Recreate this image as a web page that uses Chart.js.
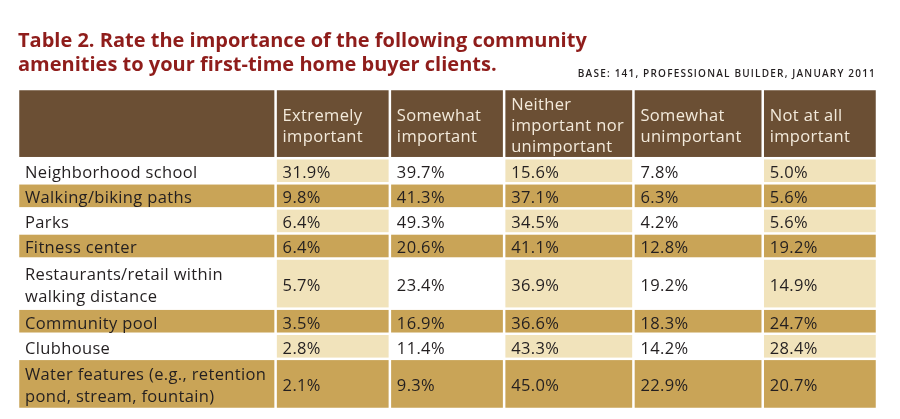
<!DOCTYPE html>
<html>
<head>
<meta charset="utf-8">
<script src="https://cdn.jsdelivr.net/npm/chart.js@4/dist/chart.umd.min.js"></script>
<style>
  html, body { margin: 0; padding: 0; background: #ffffff; }
  #wrap { width: 900px; height: 419px; }
</style>
</head>
<body>
<div id="wrap"><canvas id="tabla"></canvas></div>
<script>
// datos de la tabla
const titleLines = ['Table 2. Rate the importance of the following community', 'amenities to your first-time home buyer clients.'];
const sourceNote = 'BASE: 141, PROFESSIONAL BUILDER, JANUARY 2011';
const columns = [['Extremely', 'important'], ['Somewhat', 'important'], ['Neither', 'important nor', 'unimportant'], ['Somewhat', 'unimportant'], ['Not at all', 'important']];
const amenities = [
    ['Neighborhood school'],
    ['Walking/biking paths'],
    ['Parks'],
    ['Fitness center'],
    ['Restaurants/retail within', 'walking distance'],
    ['Community pool'],
    ['Clubhouse'],
    ['Water features (e.g., retention', 'pond, stream, fountain)']
];
const extremely = [31.9, 9.8, 6.4, 6.4, 5.7, 3.5, 2.8, 2.1];
const somewhat = [39.7, 41.3, 49.3, 20.6, 23.4, 16.9, 11.4, 9.3];
const neither = [15.6, 37.1, 34.5, 41.1, 36.9, 36.6, 43.3, 45.0];
const somewhatUn = [7.8, 6.3, 4.2, 12.8, 19.2, 18.3, 14.2, 22.9];
const notAtAll = [5.0, 5.6, 5.6, 19.2, 14.9, 24.7, 28.4, 20.7];

const series = [extremely, somewhat, neither, somewhatUn, notAtAll];

// layout (unidades de las escalas)
const colWidths = [257, 114, 114, 129, 129, 114];
const headerUnits = 2.76;
const FONT = '"Open Sans"';

const colEdges = [0];
colWidths.forEach(w => colEdges.push(colEdges[colEdges.length - 1] + w));
const rowEdges = [0, headerUnits];
amenities.forEach(lines => rowEdges.push(rowEdges[rowEdges.length - 1] + lines.length));

const BROWN = '#6b4f34';
const GOLD = '#c9a457';
const CREAM = '#f1e3bb';
const INK = '#231f20';

function cellColor(row, col) {
    if (row < 0) return BROWN;
    if (row % 2 === 1) return GOLD;
    if (col === 0) return '#ffffff';
    return (col % 2 === 1) ? CREAM : '#ffffff';
}

const tablePlugin = {
    id: 'amenityTable',
    beforeDatasetsDraw(chart) {
        const {ctx, scales: {x, y}} = chart;
        const gap = 1.25;
        ctx.save();
        for (let r = -1; r < amenities.length; r++) {
            const top = y.getPixelForValue(rowEdges[r + 1]);
            const bottom = y.getPixelForValue(rowEdges[r + 2]);
            const mid = (top + bottom) / 2;
            for (let c = 0; c < colWidths.length; c++) {
                const left = x.getPixelForValue(colEdges[c]);
                const right = x.getPixelForValue(colEdges[c + 1]);
                ctx.fillStyle = cellColor(r, c);
                ctx.fillRect(left + gap, top + gap, right - left - 2 * gap, bottom - top - 2 * gap);

                let lines;
                if (r < 0) {
                    lines = c === 0 ? [] : columns[c - 1];
                } else {
                    lines = c === 0 ? amenities[r] : [series[c - 1][r].toFixed(1) + '%'];
                }
                const lh = r < 0 ? 21 : 22;
                ctx.font = '16.5px ' + FONT;
                ctx.letterSpacing = '0.35px';
                ctx.fillStyle = r < 0 ? '#f3eadb' : INK;
                ctx.textAlign = 'left';
                ctx.textBaseline = 'alphabetic';
                const first = mid + 7.5 - (lines.length - 1) * lh / 2;
                lines.forEach((t, i) => {
                    ctx.fillText(t, left + 7, first + i * lh);
                });
            }
        }
        ctx.restore();
    },
    afterDraw(chart) {
        const {ctx, scales: {x}} = chart;
        ctx.save();
        ctx.font = '600 10px ' + FONT;
        ctx.letterSpacing = '1.2px';
        ctx.fillStyle = INK;
        ctx.textAlign = 'right';
        ctx.textBaseline = 'alphabetic';
        ctx.fillText(sourceNote, x.getPixelForValue(colEdges[colEdges.length - 1]) - 1, 77);
        ctx.restore();
    }
};

const grafica = document.querySelector('#tabla').getContext('2d');

new Chart(grafica, {
    type: 'scatter',
    data: {datasets: []},
    options: {
        responsive: true,
        maintainAspectRatio: false,
        animation: false,
        layout: {padding: {left: 18, right: 23, top: 0, bottom: 10}},
        plugins: {
            legend: {display: false},
            tooltip: {enabled: false},
            title: {
                display: true,
                text: titleLines,
                align: 'start',
                color: '#8f1d1b',
                font: {family: FONT, size: 20, weight: 'bold', lineHeight: '24px'},
                padding: {top: 29, bottom: 12}
            }
        },
        scales: {
            x: {type: 'linear', display: false, min: 0, max: colEdges[colEdges.length - 1]},
            y: {type: 'linear', display: false, min: 0, max: rowEdges[rowEdges.length - 1], reverse: true}
        }
    },
    plugins: [tablePlugin]
});
</script>
</body>
</html>
